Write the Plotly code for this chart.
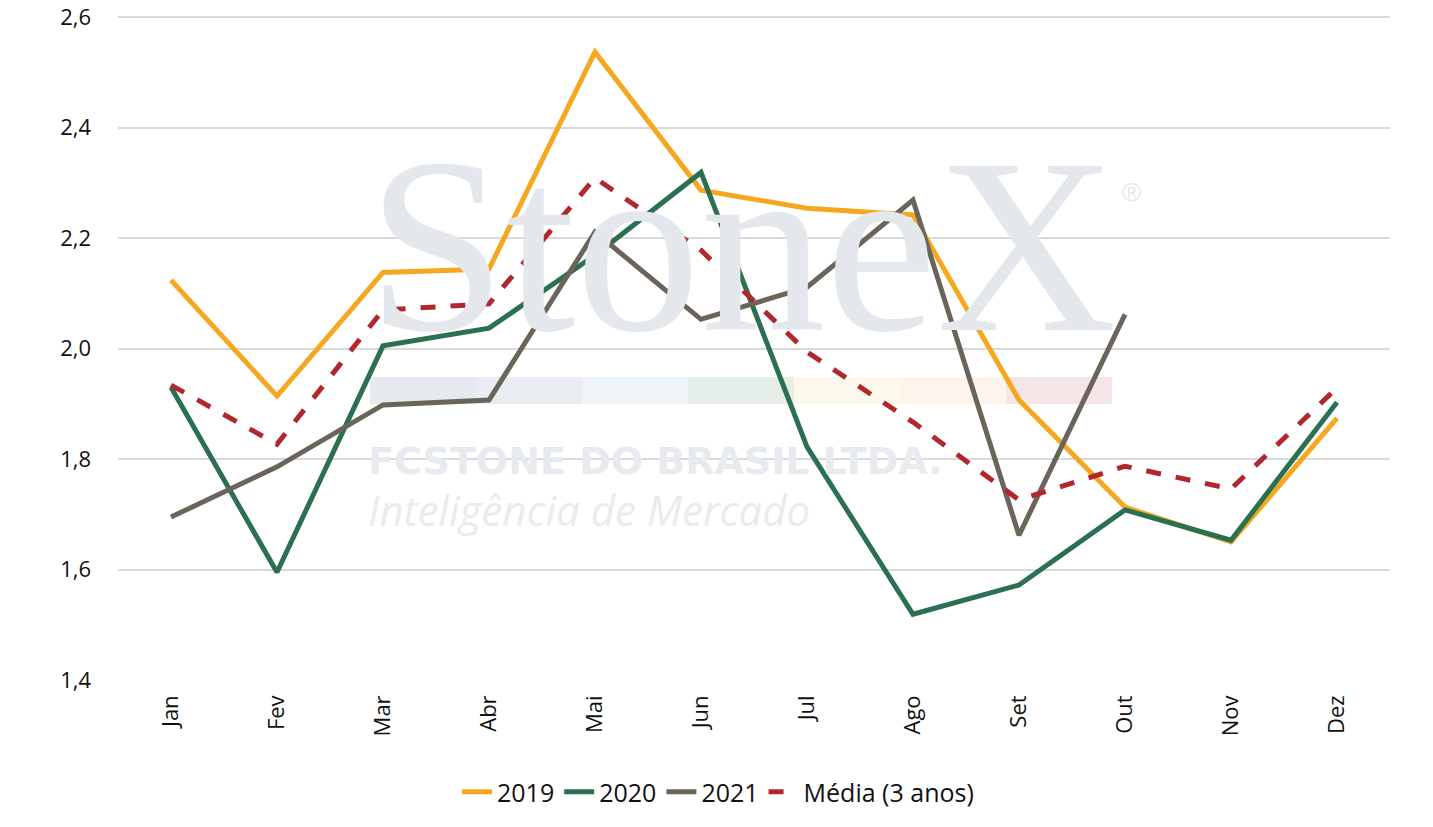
import plotly.graph_objects as go

meses = ["Jan", "Fev", "Mar", "Abr", "Mai", "Jun", "Jul", "Ago", "Set", "Out", "Nov", "Dez"]
y_ticks = [1.4, 1.6, 1.8, 2.0, 2.2, 2.4, 2.6]

v2019 = [2.124, 1.914, 2.138, 2.144, 2.537, 2.287, 2.254, 2.242, 1.907, 1.713, 1.650, 1.874]
v2020 = [1.930, 1.595, 2.005, 2.037, 2.169, 2.319, 1.822, 1.519, 1.572, 1.708, 1.653, 1.903]
v2021 = [1.695, 1.786, 1.898, 1.907, 2.211, 2.053, 2.111, 2.269, 1.662, 2.062, None, None]
media = [1.934, 1.827, 2.070, 2.081, 2.309, 2.178, 1.994, 1.867, 1.726, 1.787, 1.746, 1.929]

fig = go.Figure()

# marca d'agua
x0, x1 = (370 - 118) / 1272, (1112 - 118) / 1272
py = lambda px: (680 - px) / 665
fig.add_annotation(text="StoneX", xref="paper", yref="paper", x=x0 - 0.004, y=py(245),
                   xanchor="left", yanchor="middle", showarrow=False,
                   font=dict(family="Liberation Serif", size=250, color="#E4E8ED"))
fig.add_annotation(text="®", xref="paper", yref="paper", x=0.788, y=py(192),
                   xanchor="left", yanchor="middle", showarrow=False,
                   font=dict(family="Liberation Sans", size=26, color="#E4E8ED"))
band = ["#E6EAEF", "#E9EDF1", "#EFF4F8", "#E5EEE8", "#FDF8EC", "#FDF5EC", "#F6E5E6"]
w = (x1 - x0) / len(band)
for i, c in enumerate(band):
    fig.add_shape(type="rect", xref="paper", yref="paper", layer="below",
                  x0=x0 + i * w, x1=x0 + (i + 1) * w,
                  y0=py(404), y1=py(377),
                  fillcolor=c, line_width=0)
fig.add_annotation(text="<b>FCSTONE DO BRASIL LTDA.</b>", xref="paper", yref="paper",
                   x=x0 - 0.003, y=py(461), xanchor="left", yanchor="middle", showarrow=False,
                   font=dict(family="DejaVu Sans", size=38, color="#E7EAEE"))
fig.add_annotation(text="<i>Inteligência de Mercado</i>", xref="paper", yref="paper",
                   x=x0 - 0.003, y=py(509), xanchor="left", yanchor="middle", showarrow=False,
                   font=dict(family="Open Sans", size=42, color="#E9ECEF"))

fig.add_trace(go.Scatter(x=meses, y=v2019, name="2019", mode="lines",
                         line=dict(color="#F5A81F", width=5)))
fig.add_trace(go.Scatter(x=meses, y=v2020, name="2020", mode="lines",
                         line=dict(color="#2B7050", width=5)))
fig.add_trace(go.Scatter(x=meses, y=v2021, name="2021", mode="lines",
                         line=dict(color="#6B645A", width=5)))
fig.add_trace(go.Scatter(x=meses, y=media, name="Média (3 anos)", mode="lines",
                         line=dict(color="#B0282E", width=5, dash="dash")))

fig.update_layout(
    width=1433, height=827,
    margin=dict(l=118, r=43, t=15, b=147),
    plot_bgcolor="white", paper_bgcolor="white",
    separators=", ",
    font=dict(family="Open Sans", size=22, color="#111111"),
    showlegend=True,
    legend=dict(orientation="h", x=(718 - 118) / 1272, xanchor="center", y=py(792), yanchor="middle",
                font=dict(family="Open Sans", size=25), itemwidth=30),
    xaxis=dict(type="category", range=[-0.5, 11.5], tickangle=-90, showgrid=False,
               ticks="", showline=False, ticklabelstandoff=10, automargin=False),
    yaxis=dict(range=[1.4, 2.604], tickvals=y_ticks, tickformat=".1f", gridcolor="#D9D9D9",
               gridwidth=1.5, zeroline=False, showline=False, ticklabelstandoff=26,
               automargin=False),
)

fig.write_html("out.html", config={"displayModeBar": False},
               post_script="document.body.style.margin='0px';")
